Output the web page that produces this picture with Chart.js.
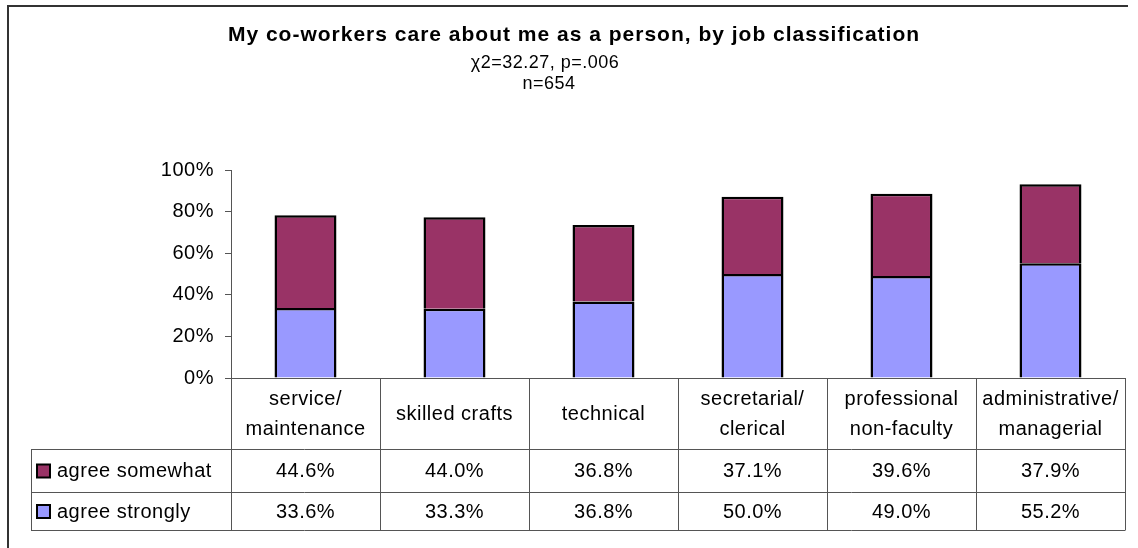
<!DOCTYPE html>
<html>
<head>
<meta charset="utf-8">
<script src="https://cdn.jsdelivr.net/npm/chart.js@4.4.1/dist/chart.umd.min.js"></script>
<style>
  html, body { margin: 0; padding: 0; background: #fff; }
  canvas { display: block; }
</style>
</head>
<body>
<canvas id="chart" width="1138" height="548"></canvas>
<script>
// job classifications (two-line headers in the table)
const categories = [
  ["service/", "maintenance"],
  ["skilled crafts"],
  ["technical"],
  ["secretarial/", "clerical"],
  ["professional", "non-faculty"],
  ["administrative/", "managerial"]
];
const agreeSomewhat = [44.6, 44.0, 36.8, 37.1, 39.6, 37.9];
const agreeStrongly = [33.6, 33.3, 36.8, 50.0, 49.0, 55.2];
const yTicks = [0, 20, 40, 60, 80, 100];

const titleText = "My co-workers care about me as a person, by job classification";
const subLines = ["\u03C72=32.27, p=.006", "n=654"];

const FONT = '"Liberation Sans", Arial, sans-serif';
const LINE = "#555555";

// data table under the plot + title + outer frame
const tablePlugin = {
  id: "dataTable",
  beforeDraw(chart) {
    chart.ctx.letterSpacing = "0.5px";
  },
  afterDraw(chart) {
    const ctx = chart.ctx;
    const x = chart.scales.x;
    const area = chart.chartArea;
    const colW = x.getPixelForValue(1) - x.getPixelForValue(0);
    const left = area.left, right = area.right, top = area.bottom;
    const legendLeft = 31;
    const rowY = [top, 449, 492, 530];

    ctx.save();
    ctx.letterSpacing = "0.5px";

    // outer frame (left and top edges only fall inside the canvas)
    ctx.strokeStyle = "#333";
    ctx.lineWidth = 2;
    ctx.beginPath();
    ctx.moveTo(8, 560);
    ctx.lineTo(8, 6);
    ctx.lineTo(1128, 6);
    ctx.stroke();

    // grid of the table
    ctx.strokeStyle = LINE;
    ctx.lineWidth = 1;
    ctx.beginPath();
    ctx.moveTo(left, Math.round(top) + 0.5);
    ctx.lineTo(right, Math.round(top) + 0.5);
    for (let r = 1; r < rowY.length; r++) {
      ctx.moveTo(legendLeft, rowY[r] + 0.5);
      ctx.lineTo(right, rowY[r] + 0.5);
    }
    for (let i = 0; i <= categories.length; i++) {
      const cx = Math.round(x.getPixelForValue(i) - colW / 2) + 0.5;
      ctx.moveTo(cx, top);
      ctx.lineTo(cx, rowY[3] + 0.5);
    }
    ctx.moveTo(legendLeft + 0.5, rowY[1]);
    ctx.lineTo(legendLeft + 0.5, rowY[3] + 0.5);
    ctx.stroke();

    // headers
    ctx.fillStyle = "#000";
    ctx.textAlign = "center";
    ctx.textBaseline = "middle";
    ctx.font = "20px " + FONT;
    const headMid = (rowY[0] + rowY[1]) / 2 + 1;
    categories.forEach((lines, i) => {
      const cx = x.getPixelForValue(i);
      const lh = 30;
      const y0 = headMid - (lines.length - 1) * lh / 2;
      lines.forEach((t, k) => ctx.fillText(t, cx, y0 + k * lh));
    });

    // value rows with legend keys
    const rows = [
      { label: "agree somewhat", data: agreeSomewhat, color: chart.data.datasets[1].backgroundColor },
      { label: "agree strongly", data: agreeStrongly, color: chart.data.datasets[0].backgroundColor }
    ];
    rows.forEach((row, r) => {
      const cy = (rowY[r + 1] + rowY[r + 2]) / 2 + 1;
      ctx.fillStyle = row.color;
      ctx.fillRect(37, cy - 7, 13, 13);
      ctx.strokeStyle = "#000";
      ctx.lineWidth = 2;
      ctx.strokeRect(37, cy - 7, 13, 13);
      ctx.fillStyle = "#000";
      ctx.textAlign = "left";
      ctx.fillText(row.label, 57, cy);
      ctx.textAlign = "center";
      row.data.forEach((v, i) => ctx.fillText(v.toFixed(1) + "%", x.getPixelForValue(i), cy));
    });

    // title block
    ctx.letterSpacing = "1px";
    ctx.font = "bold 21px " + FONT;
    ctx.fillText(titleText, 574, 35);
    ctx.letterSpacing = "0.5px";
    ctx.font = "18px " + FONT;
    ctx.fillText(subLines[0], 545, 63);
    ctx.fillText(subLines[1], 549, 84);
    ctx.restore();
  }
};

new Chart(document.getElementById("chart"), {
  type: "bar",
  data: {
    labels: categories.map(c => c.join(" ")),
    datasets: [
      {
        label: "agree strongly",
        data: agreeStrongly,
        backgroundColor: "#9999ff",
        borderColor: "#000",
        borderWidth: 2.5,
        categoryPercentage: 1,
        barPercentage: 0.416
      },
      {
        label: "agree somewhat",
        data: agreeSomewhat,
        backgroundColor: "#993366",
        borderColor: "#000",
        borderWidth: 2.5,
        categoryPercentage: 1,
        barPercentage: 0.416
      }
    ]
  },
  options: {
    responsive: false,
    animation: false,
    layout: { padding: { top: 170, bottom: 170, left: 0, right: 13 } },
    plugins: {
      legend: { display: false },
      tooltip: { enabled: false },
      title: { display: false }
    },
    scales: {
      x: { stacked: true, display: false },
      y: {
        stacked: true,
        min: 0,
        max: 100,
        afterBuildTicks(scale) {
          scale.ticks = yTicks.map(v => ({ value: v }));
        },
        afterFit(scale) { scale.width = 231; },
        border: { display: true, color: LINE, width: 1 },
        grid: { drawOnChartArea: false, tickLength: 6, color: LINE },
        ticks: {
          padding: 11,
          color: "#000",
          font: { family: FONT, size: 20 },
          callback: v => v + "%"
        }
      }
    }
  },
  plugins: [tablePlugin]
});
</script>
</body>
</html>
